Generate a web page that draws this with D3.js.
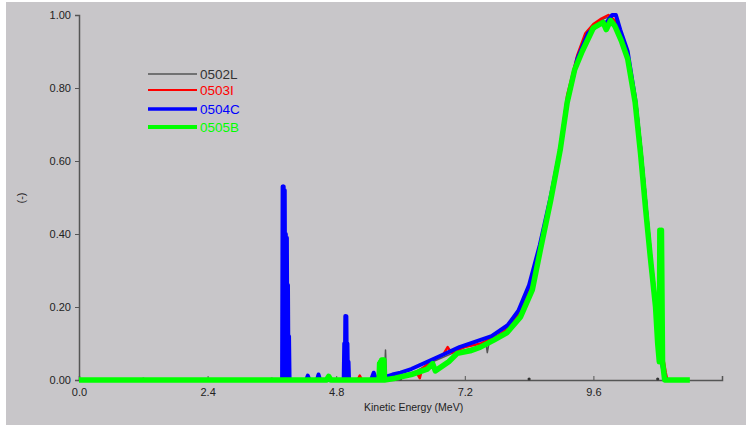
<!DOCTYPE html>
<html><head><meta charset="utf-8">
<script src="https://cdn.jsdelivr.net/npm/d3@7/dist/d3.min.js"></script>
<style>body{margin:0;background:#fff}svg{display:block}</style>
</head><body><svg id="c" width="746" height="425"></svg>
<script>
const seriesNames = ["0502L","0503I","0504C","0505B"];
const seriesColors = ["#555555","#ff0000","#0000ff","#00ff00"];
const xTickValues = [0,2.4,4.8,7.2,9.6];
const xTickLabels = ["0.0","2.4","4.8","7.2","9.6"];
const xMinorTicks = [1.2,3.6,6.0,8.4,10.8];
const yTickValues = [0,0.2,0.4,0.6,0.8,1.0];
const yTickLabels = ["0.00","0.20","0.40","0.60","0.80","1.00"];

// [energy, value] pairs
const s0502L = [[0,0],[5.6,0],[5.70,0.01],[5.72,0.082],[5.74,0.01],[5.8,0.005],[6.0,0.01],[6.3,0.025],[6.6,0.05],[7.0,0.075],[7.4,0.09],[7.6,0.095],[7.62,0.075],[7.65,0.1],[8.0,0.14],[8.25,0.19],[8.45,0.27],[8.6,0.36],[8.8,0.49],[8.98,0.63],[9.11,0.77],[9.25,0.86],[9.4,0.92],[9.6,0.97],[9.8,0.99],[9.9,0.995],[10.0,0.98],[10.12,0.93],[10.24,0.89],[10.38,0.77],[10.48,0.63],[10.58,0.47],[10.66,0.35],[10.78,0.2],[10.86,0.08],[10.92,0.03],[10.95,0]];
const s0503I = [[0,0],[5.2,0],[5.24,0.012],[5.28,0],[5.9,0.005],[6.1,0.015],[6.3,0.02],[6.36,0.005],[6.4,0.03],[6.6,0.055],[6.8,0.07],[6.88,0.09],[6.95,0.075],[7.2,0.09],[7.5,0.1],[7.8,0.12],[8.0,0.14],[8.2,0.18],[8.4,0.25],[8.6,0.36],[8.8,0.5],[8.98,0.64],[9.11,0.78],[9.3,0.89],[9.45,0.95],[9.6,0.975],[9.75,0.99],[9.88,1.0],[10.0,0.985],[10.12,0.94],[10.26,0.88],[10.4,0.76],[10.5,0.62],[10.6,0.46],[10.68,0.33],[10.8,0.18],[10.88,0.08],[10.95,0.02],[10.98,0]];
const s0504C = [[0,0],[3.79,0],[3.80,0.53],[3.81,0],[3.82,0.53],[3.83,0],[3.84,0.52],[3.85,0],[3.86,0.40],[3.87,0],[3.88,0.39],[3.89,0],[3.90,0.26],[3.91,0],[3.92,0.12],[3.93,0],[4.24,0],[4.27,0.012],[4.30,0],[4.44,0],[4.47,0.015],[4.50,0],[4.94,0],[4.95,0.10],[4.96,0],[4.97,0.175],[4.98,0],[4.99,0.175],[5.00,0],[5.01,0.10],[5.02,0],[5.03,0.05],[5.04,0],[5.45,0],[5.5,0.02],[5.55,0],[5.85,0.015],[6.0,0.02],[6.2,0.03],[6.5,0.05],[6.8,0.07],[7.1,0.09],[7.4,0.105],[7.7,0.12],[8.0,0.15],[8.2,0.19],[8.4,0.26],[8.6,0.37],[8.8,0.5],[8.98,0.63],[9.11,0.76],[9.3,0.88],[9.5,0.95],[9.7,0.975],[9.85,0.98],[9.95,1.0],[10.02,1.0],[10.1,0.96],[10.24,0.9],[10.38,0.77],[10.48,0.63],[10.58,0.47],[10.66,0.34],[10.76,0.2],[10.84,0.08],[10.9,0.03],[10.95,0]];
const s0505B = [[0,0],[4.62,0],[4.66,0.01],[4.7,0],[5.6,0],[5.61,0.045],[5.62,0],[5.63,0.05],[5.64,0],[5.65,0.055],[5.66,0],[5.67,0.055],[5.68,0],[5.69,0.055],[5.70,0],[5.9,0.005],[6.2,0.015],[6.5,0.03],[6.6,0.045],[6.65,0.025],[6.9,0.05],[7.06,0.073],[7.3,0.08],[7.49,0.09],[7.75,0.11],[7.99,0.13],[8.24,0.173],[8.46,0.247],[8.61,0.356],[8.8,0.49],[8.98,0.63],[9.11,0.76],[9.25,0.85],[9.39,0.9],[9.6,0.965],[9.78,0.98],[9.84,0.96],[9.92,0.985],[10.0,0.97],[10.12,0.93],[10.24,0.88],[10.38,0.76],[10.48,0.62],[10.58,0.46],[10.66,0.34],[10.76,0.2],[10.8,0.1],[10.83,0.05],[10.84,0.41],[10.86,0.05],[10.87,0.41],[10.89,0.05],[10.93,0],[11.4,0]];
const seriesData = [s0502L, s0503I, s0504C, s0505B];
const seriesWidths = [1.5, 2.5, 4, 5.5];
const legendWidths = [1.5, 2, 3.5, 4];

const svg = d3.select("#c");
svg.append("rect").attr("width",746).attr("height",425).attr("fill","#ffffff");
svg.append("rect").attr("x",6).attr("y",2).attr("width",740).attr("height",423).attr("fill","#c8c6c9");

const x = d3.scaleLinear().domain([0,12]).range([79,722]);
const y = d3.scaleLinear().domain([0,1]).range([380,15]);

const font = "Liberation Sans, Arial, sans-serif";
// axes
const xAxis = d3.axisBottom(x).tickValues(xTickValues).tickFormat((d,i)=>xTickLabels[i]).tickSize(-4).tickPadding(8);
const gx = svg.append("g").attr("transform","translate(0,380)").call(xAxis);
gx.select(".domain").attr("stroke","#555").attr("stroke-width",1.5);
gx.selectAll(".tick line").attr("stroke","#555");
gx.selectAll(".tick text").attr("fill","#222").attr("font-family",font).attr("font-size",11);
svg.append("g").selectAll("circle").data(xMinorTicks).join("circle")
  .attr("cx",d=>x(d)).attr("cy",379).attr("r",1.6).attr("fill","#333");

const yAxis = d3.axisLeft(y).tickValues(yTickValues).tickFormat((d,i)=>yTickLabels[i]).tickSize(4).tickPadding(4);
const gy = svg.append("g").attr("transform","translate(79,0)").call(yAxis);
gy.select(".domain").attr("stroke","#555").attr("stroke-width",1.5);
gy.selectAll(".tick line").attr("stroke","#555");
gy.selectAll(".tick text").attr("fill","#222").attr("font-family",font).attr("font-size",11);

svg.append("text").attr("x",364).attr("y",411).attr("fill","#222")
  .attr("font-family",font).attr("font-size",10.5).text("Kinetic Energy (MeV)");
svg.append("text").attr("transform","translate(25,198) rotate(-90)").attr("text-anchor","middle")
  .attr("fill","#222").attr("font-family",font).attr("font-size",11).text("(-)");

// lines
const line = d3.line().x(d=>x(d[0])).y(d=>y(d[1]));
seriesData.forEach((s,i)=>{
  svg.append("path").datum(s).attr("d",line).attr("fill","none")
    .attr("stroke",seriesColors[i]).attr("stroke-width",seriesWidths[i]).attr("stroke-linejoin","round");
});

// legend
const legY = [74, 90, 109, 127];
const lg = svg.append("g");
seriesNames.forEach((n,i)=>{
  lg.append("line").attr("x1",148).attr("x2",197).attr("y1",legY[i]).attr("y2",legY[i])
    .attr("stroke",seriesColors[i]).attr("stroke-width",legendWidths[i]);
  lg.append("text").attr("x",200).attr("y",legY[i]+5).attr("fill",i===0?"#333":seriesColors[i])
    .attr("font-family",font).attr("font-size",13.5).text(n);
});
</script></body></html>
